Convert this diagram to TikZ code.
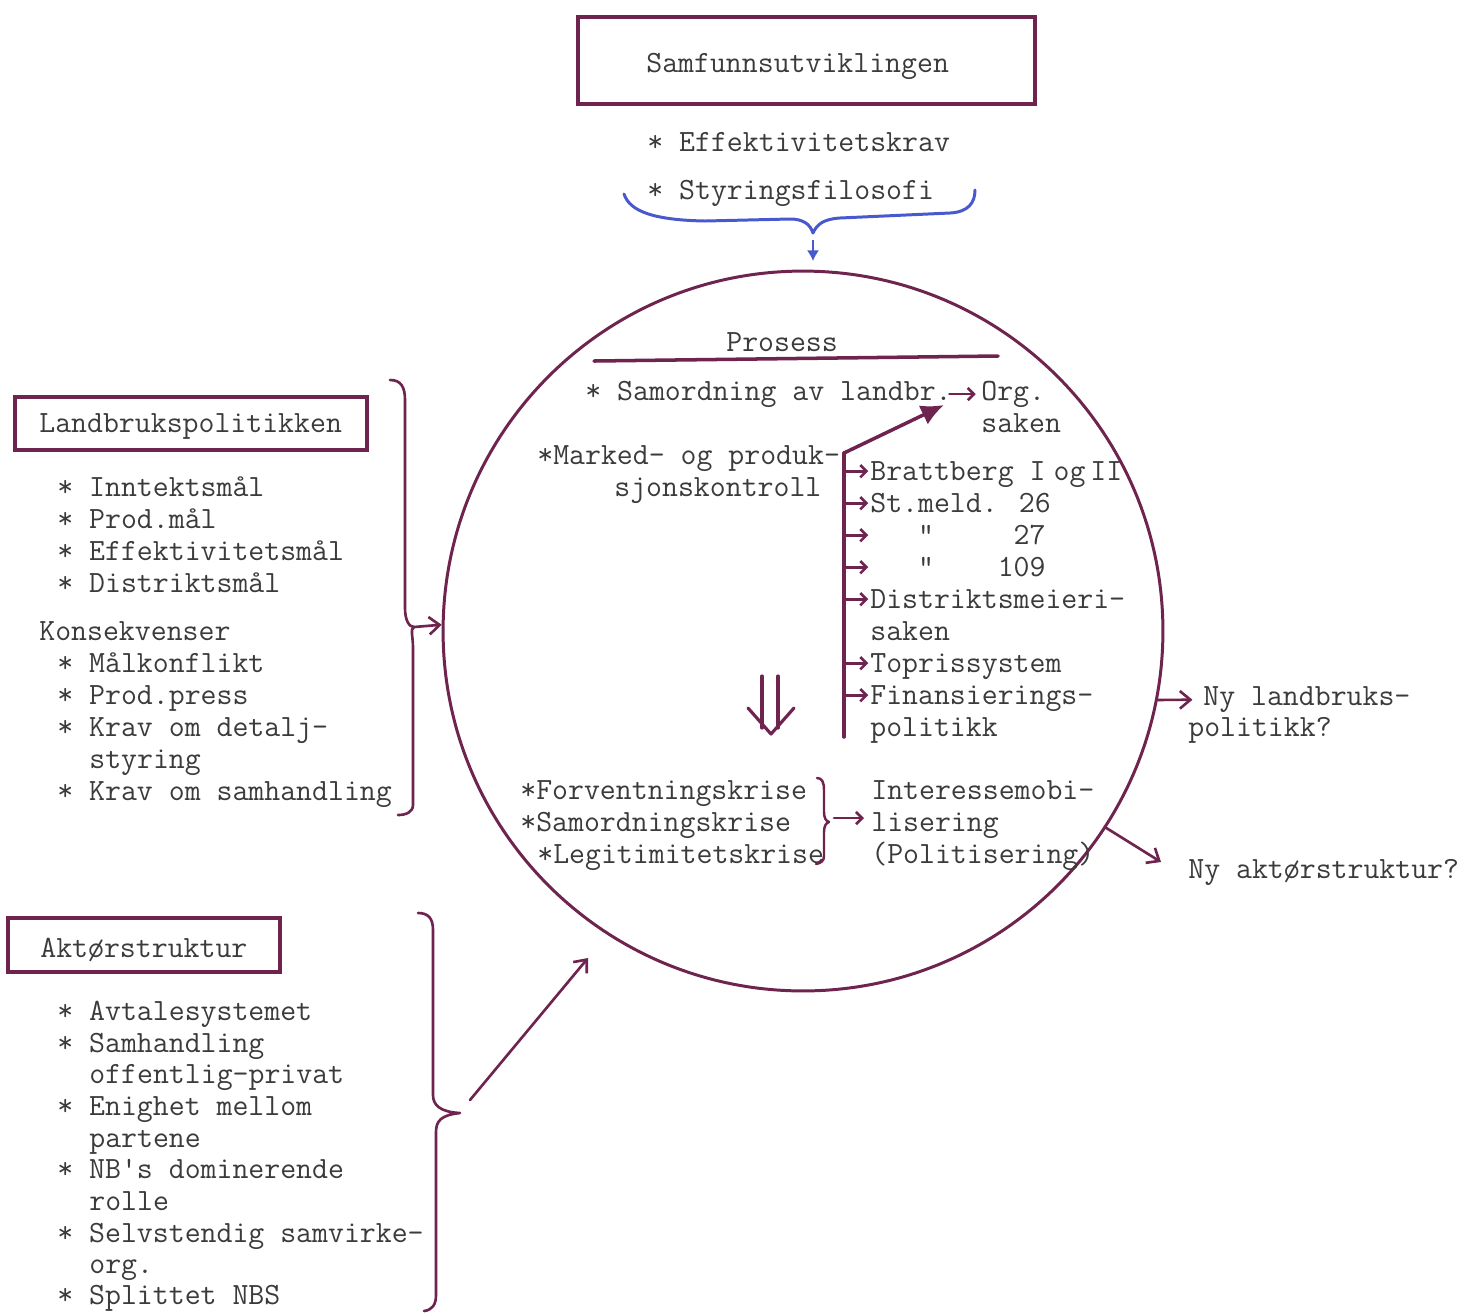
\documentclass[tikz,border=0pt]{standalone}
\usetikzlibrary{arrows.meta,calc}
\definecolor{ink}{RGB}{110,36,78}
\definecolor{txtc}{RGB}{58,60,58}
\definecolor{blueink}{RGB}{72,88,205}
\newcommand{\tw}{\ttfamily\fontsize{17.6}{20}\selectfont}

\begin{document}
\begin{tikzpicture}[x=0.02cm,y=-0.02cm,
  txt/.style={anchor=base west,inner sep=0pt,text=txtc,font=\tw},
  frame/.style={draw=ink,line width=2.1pt,inner sep=0pt},
  pen/.style={draw=ink,line width=1.6pt,line cap=round,line join=round},
  barb/.style={pen,-{Straight Barb[length=6pt,width=10pt]}},
  smallarr/.style={pen,line width=1.5pt,-{Straight Barb[length=3.5pt,width=7pt]}},
  curly/.style={pen,line width=1.5pt}]
\useasboundingbox[fill=white] (0,0) rectangle (1460,1313);

% ---- top: society box and its demands
\node[frame,minimum width=9.14cm,minimum height=1.74cm] (samfbox) at (806.5,60.5) {};
\node[txt] (samf) at (646,72) {Samfunnsutviklingen};
\node[txt] (eff)  at (647,151) {* Effektivitetskrav};
\node[txt] (styr) at (647,199) {* Styringsfilosofi};

% blue brace under the two demands
\draw[blueink,line width=1.7pt,line cap=round,line join=round]
  (624,194) .. controls (630,212) and (655,220) .. (705,221) -- (790,219)
  .. controls (803,219) and (810,224) .. (813,233)
  .. controls (817,224) and (824,219) .. (840,218) -- (950,213)
  .. controls (968,212) and (975,203) .. (975,190);
\coordinate (bracetip) at (813,240);
\coordinate (procin) at (813,261);
\draw[blueink,line width=1.6pt,-{Latex[length=6pt,width=7pt]}] (bracetip) -- (procin);

% ---- the process circle
\node[draw=ink,line width=1.7pt,circle,minimum size=14.4cm,inner sep=0pt] (proc) at (803,631) {};

\node[txt] (pros) at (726,351) {Prosess};
\coordinate (ulA) at (594,361);
\coordinate (ulB) at (998,356);
\draw[pen,line width=2pt] (ulA) -- (ulB);

\node[txt] (samo) at (585,400) {* Samordning av landbr.};
\node[txt] (org)  at (981,400) {Org.};
\node[txt] (orgs) at (981,432) {saken};
\draw[smallarr] ([xshift=-1.5pt,yshift=3.4pt]samo.base east) -- ([xshift=-3pt,yshift=3.4pt]org.base west);

\node[txt] (mark) at (537,464) {*Marked- og produk-};
\node[txt] (sjon) at (614,496) {sjonskontroll};

% vertical bar with its branches
\coordinate (bartop) at (844,453);
\coordinate (barbot) at (844,737);
\coordinate (orgtip) at (944,405);
\draw[pen,line width=2pt] (bartop) -- (barbot);
\draw[pen,line width=2pt,-{Latex[length=13pt,width=12pt]}] (bartop) -- (orgtip);

\node[txt] (brat) at (870,480) {Brattberg I\hspace{4.6pt}og\hspace{2.8pt}II};
\node[txt] (stm)  at (870,512) {St.meld. 26};
\node[txt] (s27)  at (870,544) {\hphantom{xxx}"\hphantom{xxxxx}27};
\node[txt] (s109) at (870,576) {\hphantom{xxx}"\hphantom{xxxx}109};
\node[txt] (dist) at (870,608) {Distriktsmeieri-};
\node[txt] (dists) at (870,640) {saken};
\node[txt] (topr) at (870,672) {Toprissystem};
\node[txt] (fin)  at (870,704) {Finansierings-};
\node[txt] (finp) at (870,736) {politikk};
\foreach \n in {brat,stm,s27,s109,dist,topr,fin}
  \draw[smallarr] ([yshift=5pt]bartop |- \n.base) -- ([xshift=-1pt,yshift=5pt]\n.base west);

% double arrow down to the crises
\draw[pen,line width=1.8pt] (762,676) -- (762,728);
\draw[pen,line width=1.8pt] (778,676) -- (778,728);
\draw[pen,line width=1.8pt] (748,708) -- (771,734) -- (794,708);

\node[txt] (fk) at (520,799) {*Forventningskrise};
\node[txt] (sk) at (520,831) {*Samordningskrise};
\node[txt] (lk) at (537,863) {*Legitimitetskrise};
\draw[curly,line width=1.4pt] (817,778) .. controls (822,778) and (824,782) .. (824,790) -- (824,812)
  .. controls (824,818) and (826,821) .. (829,822)
  .. controls (826,823) and (824,826) .. (824,832) -- (824,856)
  .. controls (824,861) and (821,863) .. (816,864);
\node[txt] (inter) at (871,799) {Interessemobi-};
\node[txt] (lis)   at (871,831) {lisering};
\node[txt] (polit) at (871,863) {(Politisering)};
\coordinate (ktip) at (834,818);
\draw[smallarr] (ktip) -- ([xshift=-4pt]ktip -| lis.west);

% ---- outcomes on the right
\node[txt] (nyl)  at (1203,705) {Ny landbruks-};
\node[txt] (nylp) at (1188,736) {politikk?};
\draw[barb,line width=1.5pt] (proc.-11) -- ([xshift=-6pt,yshift=3pt]nyl.base west);
\node[txt] (nya) at (1188,878) {Ny aktørstruktur?};
\coordinate (nyatip) at (1161,862);
\draw[barb,line width=1.5pt] (proc.-33.3) -- (nyatip);

% ---- agricultural policy
\node[frame,minimum width=7.04cm,minimum height=1.06cm] (lpbox) at (191,423.5) {};
\node[txt] (lp) at (39,432) {Landbrukspolitikken};
\node[txt] (l1) at (57,496) {* Inntektsmål};
\node[txt] (l2) at (57,528) {* Prod.mål};
\node[txt] (l3) at (57,560) {* Effektivitetsmål};
\node[txt] (l4) at (57,592) {* Distriktsmål};
\node[txt] (kons) at (39,640) {Konsekvenser};
\node[txt] (k1) at (57,672) {* Målkonflikt};
\node[txt] (k2) at (57,704) {* Prod.press};
\node[txt] (k3) at (57,736) {* Krav om detalj-};
\node[txt] (k3b) at (89,768) {styring};
\node[txt] (k4) at (57,800) {* Krav om samhandling};

\coordinate (lbtip) at (414,627);
\draw[curly] (390,380) .. controls (401,380) and (405,387) .. (405,400) -- (405,608)
  .. controls (405,620) and (409,627) .. (lbtip)
  .. controls (410,629) and (413,636) .. (413,648) -- (413,805)
  .. controls (413,812) and (406,815) .. (398,815);
\draw[barb,line width=1.5pt] (lbtip) -- (proc.179.4);

% ---- actor structure
\node[frame,minimum width=5.44cm,minimum height=1.08cm] (akbox) at (144,945) {};
\node[txt] (ak) at (40,957) {Aktørstruktur};
\node[txt] (a1)  at (57,1020) {* Avtalesystemet};
\node[txt] (a2)  at (57,1052) {* Samhandling};
\node[txt] (a2b) at (89,1083) {offentlig-privat};
\node[txt] (a3)  at (57,1115) {* Enighet mellom};
\node[txt] (a3b) at (89,1147) {partene};
\node[txt] (a4)  at (57,1178) {* NB's dominerende};
\node[txt] (a4b) at (89,1210) {rolle};
\node[txt] (a5)  at (57,1242) {* Selvstendig samvirke-};
\node[txt] (a5b) at (89,1273) {org.};
\node[txt] (a6)  at (57,1304) {* Splittet NBS};

\coordinate (abtip) at (460,1113);
\draw[curly] (418,913) .. controls (428,913) and (433,918) .. (433,930) -- (433,1095)
  .. controls (433,1105) and (440,1112) .. (abtip)
  .. controls (441,1115) and (436,1121) .. (436,1132) -- (436,1295)
  .. controls (436,1305) and (432,1310) .. (424,1311);
\coordinate (aktail) at (470,1100);
\coordinate (akhead) at (588,958);
\draw[barb,line width=1.5pt] (aktail) -- (akhead);
\end{tikzpicture}
\end{document}
